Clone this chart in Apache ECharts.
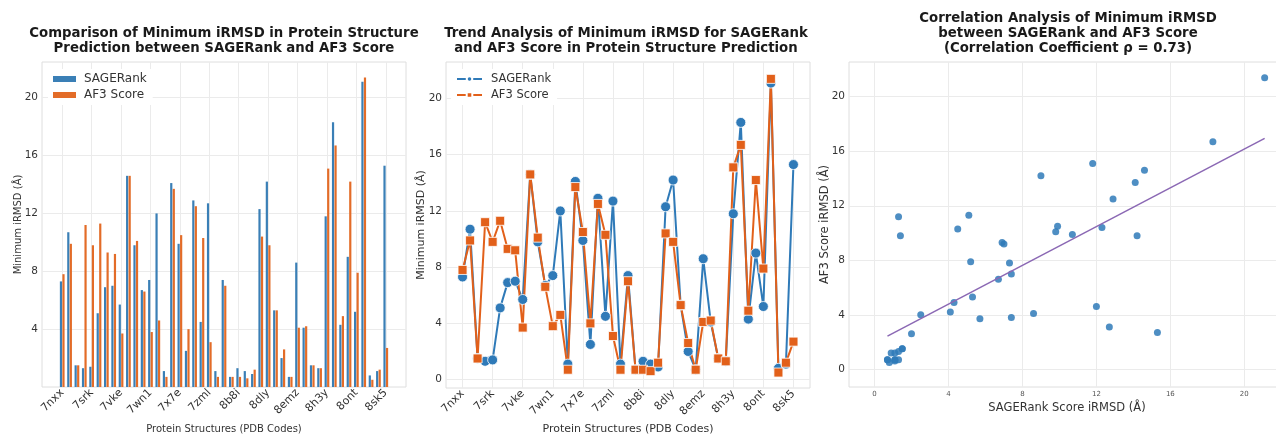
<!DOCTYPE html>
<html><head><meta charset="utf-8">
<script src="https://cdn.jsdelivr.net/npm/echarts@6/dist/echarts.min.js"></script>
<style>html,body{margin:0;padding:0;background:#fff;}#c{width:1276px;height:435px;}</style>
</head><body><div id="c"></div>
<script>
// ---- data ----
const tickLabels = ['7nxx','7srk','7vke','7wn1','7x7e','7zml','8b8i','8dly','8emz','8h3y','8ont','8sk5'];
const labelStep = 4;
const sagerank = [7.3, 10.7, 1.5, 1.3, 1.4, 5.1, 6.9, 7.0, 5.7, 14.6, 9.8, 6.7, 7.4, 12.0, 1.1, 14.1, 9.9, 2.5, 12.9, 4.5, 12.7, 1.1, 7.4, 0.7, 1.3, 1.1, 0.9, 12.3, 14.2, 5.3, 2.0, 0.7, 8.6, 4.1, 1.5, 1.3, 11.8, 18.3, 4.3, 9.0, 5.2, 21.1, 0.8, 1.1, 15.3];
const af3 =      [7.8, 9.9, 1.5, 11.2, 9.8, 11.3, 9.3, 9.2, 3.7, 14.6, 10.1, 6.6, 3.8, 4.6, 0.7, 13.7, 10.5, 4.0, 12.5, 10.3, 3.1, 0.7, 7.0, 0.7, 0.7, 0.6, 1.2, 10.4, 9.8, 5.3, 2.6, 0.7, 4.1, 4.2, 1.5, 1.3, 15.1, 16.7, 4.9, 14.2, 7.9, 21.4, 0.5, 1.2, 2.7];
const yTicks = [0, 4, 8, 12, 16, 20];
const barYTicks = [4, 8, 12, 16, 20];
const scatterXTicks = [0, 4, 8, 12, 16, 20];
const rho = '0.73';

// ---- derived ----
const tickPos = tickLabels.map((_, i) => i * labelStep);
const idxOf = v => tickLabels[Math.round(v / labelStep)];
const n = sagerank.length;
const mx = sagerank.reduce((a, b) => a + b, 0) / n;
const my = af3.reduce((a, b) => a + b, 0) / n;
let sxy = 0, sxx = 0;
for (let i = 0; i < n; i++) { sxy += (sagerank[i] - mx) * (af3[i] - my); sxx += (sagerank[i] - mx) ** 2; }
const slope = sxy / sxx, icpt = my - slope * mx;
const xLo = Math.min(...sagerank), xHi = Math.max(...sagerank);
const fitLine = [[xLo, icpt + slope * xLo], [xHi, icpt + slope * xHi]];

const BLUE = '#2f7ab8', ORANGE = '#e2601a', PURPLE = '#8b68b4';
const BAR_BLUE = '#3a7fb6', BAR_ORANGE = '#e36c28';
const FONT = 'DejaVu Sans';
const gridLine = { show: true, lineStyle: { color: '#ebebeb', width: 1 } };
const txt = '#333';

function valAxis(o) {
  return Object.assign({
    type: 'value', axisLine: { show: false }, splitLine: gridLine,
    nameLocation: 'middle', nameMoveOverlap: false, nameTextStyle: { color: txt, fontFamily: FONT },
  }, o);
}
const gridBase = { show: true, borderColor: '#dedede', borderWidth: 1, backgroundColor: '#fff', outerBoundsMode: 'none', containLabel: false };

const chart = echarts.init(document.getElementById('c'), null, { renderer: 'canvas' });
chart.setOption({
  animation: false,
  backgroundColor: '#fff',
  textStyle: { fontFamily: FONT },
  graphic: [
    { type: 'text', x: 224, y: 26, style: { text: 'Comparison of Minimum iRMSD in Protein Structure\nPrediction between SAGERank and AF3 Score', align: 'center', verticalAlign: 'top', fontFamily: FONT, fontWeight: 'bold', fontSize: 13.3, lineHeight: 15, fill: '#1a1a1a' } },
    { type: 'text', x: 626, y: 26, style: { text: 'Trend Analysis of Minimum iRMSD for SAGERank\nand AF3 Score in Protein Structure Prediction', align: 'center', verticalAlign: 'top', fontFamily: FONT, fontWeight: 'bold', fontSize: 13.3, lineHeight: 15, fill: '#1a1a1a' } },
    { type: 'text', x: 1068, y: 11, style: { text: 'Correlation Analysis of Minimum iRMSD\nbetween SAGERank and AF3 Score\n(Correlation Coefficient \u03c1 = ' + rho + ')', align: 'center', verticalAlign: 'top', fontFamily: FONT, fontWeight: 'bold', fontSize: 13.3, lineHeight: 15, fill: '#1a1a1a' } }
  ],
  grid: [
    Object.assign({ left: 42, top: 62, width: 364, height: 325 }, gridBase),
    Object.assign({ left: 446, top: 62, width: 364, height: 326 }, gridBase),
    Object.assign({ left: 849, top: 62, width: 436, height: 325 }, gridBase)
  ],
  legend: [
    { data: [{ name: 'SAGERank', icon: 'rect' }, { name: 'AF3 Score', icon: 'rect' }], orient: 'vertical', left: 48, top: 69,
      itemWidth: 23, itemHeight: 6, itemGap: 4, padding: [4, 6, 4, 5], backgroundColor: '#fff',
      textStyle: { fontSize: 12, color: txt, fontFamily: FONT, padding: [0, 0, 0, 3] } },
    { data: ['SAGERank ', 'AF3 Score '], formatter: s => s.trim(), orient: 'vertical', left: 451, top: 69,
      itemWidth: 25, itemHeight: 7, itemGap: 4, padding: [4, 6, 4, 5], backgroundColor: '#fff',
      textStyle: { fontSize: 11.5, color: txt, fontFamily: FONT, padding: [0, 0, 0, 4] } }
  ],
  xAxis: [
    valAxis({ gridIndex: 0, min: -2.75, max: 46.75,
      axisTick: { show: false, customValues: tickPos },
      splitLine: Object.assign({ customValues: tickPos }, gridLine),
      axisLabel: { customValues: tickPos, formatter: idxOf, rotate: 45, fontSize: 11, color: txt, margin: 4, fontFamily: FONT },
      name: 'Protein Structures (PDB Codes)', nameGap: 37, nameTextStyle: { fontSize: 10, color: txt, fontFamily: FONT } }),
    valAxis({ gridIndex: 1, min: -2.2, max: 46.2,
      axisTick: { show: false, customValues: tickPos },
      splitLine: Object.assign({ customValues: tickPos }, gridLine),
      axisLabel: { customValues: tickPos, formatter: idxOf, rotate: 45, fontSize: 11, color: txt, margin: 4, fontFamily: FONT },
      name: 'Protein Structures (PDB Codes)', nameGap: 36, nameTextStyle: { fontSize: 11, color: txt, fontFamily: FONT } }),
    valAxis({ gridIndex: 2, min: -1.38, max: 22.2,
      axisTick: { show: false, customValues: scatterXTicks },
      splitLine: Object.assign({ customValues: scatterXTicks }, gridLine),
      axisLabel: { customValues: scatterXTicks, fontSize: 7, color: '#555', margin: 4, fontFamily: FONT },
      name: 'SAGERank Score iRMSD (\u00c5)', nameGap: 15, nameTextStyle: { fontSize: 11.5, color: txt, fontFamily: FONT } })
  ],
  yAxis: [
    valAxis({ gridIndex: 0, min: 0, max: 22.47,
      axisTick: { show: false, customValues: barYTicks },
      splitLine: Object.assign({ customValues: barYTicks }, gridLine),
      axisLabel: { customValues: barYTicks, fontSize: 10.5, color: txt, margin: 4, fontFamily: FONT },
      name: 'Minimum iRMSD (\u00c5)', nameGap: 19, nameTextStyle: { fontSize: 10, color: txt, fontFamily: FONT } }),
    valAxis({ gridIndex: 1, min: -0.6, max: 22.6,
      axisTick: { show: false, customValues: yTicks },
      splitLine: Object.assign({ customValues: yTicks }, gridLine),
      axisLabel: { customValues: yTicks, fontSize: 10.5, color: txt, margin: 4, fontFamily: FONT },
      name: 'Minimum iRMSD (\u00c5)', nameGap: 19, nameTextStyle: { fontSize: 11, color: txt, fontFamily: FONT } }),
    valAxis({ gridIndex: 2, min: -1.3, max: 22.55,
      axisTick: { show: false, customValues: yTicks },
      splitLine: Object.assign({ customValues: yTicks }, gridLine),
      axisLabel: { customValues: yTicks, fontSize: 10.5, color: txt, margin: 4, fontFamily: FONT },
      name: 'AF3 Score iRMSD (\u00c5)', nameGap: 18, nameTextStyle: { fontSize: 11.5, color: txt, fontFamily: FONT } })
  ],
  series: [
    { type: 'bar', name: 'SAGERank', xAxisIndex: 0, yAxisIndex: 0, data: sagerank.map((v, i) => [i, v]),
      barWidth: 2.2, barGap: '15%', itemStyle: { color: BAR_BLUE } },
    { type: 'bar', name: 'AF3 Score', xAxisIndex: 0, yAxisIndex: 0, data: af3.map((v, i) => [i, v]),
      barWidth: 2.2, barGap: '15%', itemStyle: { color: BAR_ORANGE } },
    { type: 'line', name: 'SAGERank ', xAxisIndex: 1, yAxisIndex: 1, data: sagerank.map((v, i) => [i, v]),
      symbol: 'circle', symbolSize: 10, lineStyle: { color: BLUE, width: 2 },
      itemStyle: { color: BLUE, borderColor: '#fff', borderWidth: 0.8 } },
    { type: 'line', name: 'AF3 Score ', xAxisIndex: 1, yAxisIndex: 1, data: af3.map((v, i) => [i, v]),
      symbol: 'rect', symbolSize: 9, lineStyle: { color: ORANGE, width: 2 },
      itemStyle: { color: ORANGE, borderColor: '#fff', borderWidth: 0.8 } },
    { type: 'scatter', name: 'points', xAxisIndex: 2, yAxisIndex: 2, data: sagerank.map((x, i) => [x, af3[i]]),
      symbolSize: 7, itemStyle: { color: BLUE, opacity: 0.85 } },
    { type: 'line', name: 'fit', xAxisIndex: 2, yAxisIndex: 2, data: fitLine, symbol: 'none',
      lineStyle: { color: PURPLE, width: 1.5 } }
  ]
});
</script></body></html>
